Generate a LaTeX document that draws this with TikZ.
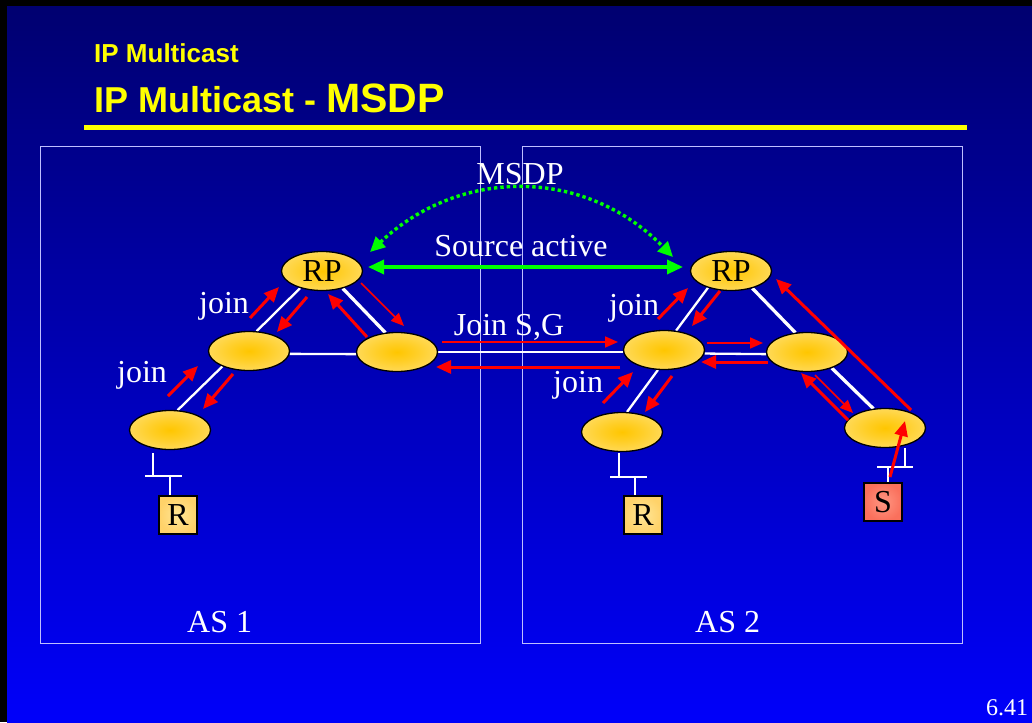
\documentclass[tikz,border=0pt]{standalone}
\usepackage{fontspec}
\setmainfont{Liberation Serif}
\newfontfamily\titlefont{Liberation Sans}
\usetikzlibrary{arrows.meta,shapes.geometric,calc}
\definecolor{bgtop}{RGB}{0,0,112}
\definecolor{bgbot}{RGB}{0,0,250}
\definecolor{ecen}{RGB}{255,198,0}
\definecolor{eout}{RGB}{255,232,155}
\definecolor{rcen}{RGB}{255,230,150}
\definecolor{rout}{RGB}{255,210,105}
\definecolor{scen}{RGB}{255,150,130}
\definecolor{sout}{RGB}{250,112,92}
\definecolor{ttl}{RGB}{255,255,0}
\definecolor{arrred}{RGB}{255,0,0}
\definecolor{arrgreen}{RGB}{0,255,0}
\definecolor{boxline}{RGB}{190,190,255}
\pgfdeclareradialshading{eglow}{\pgfpoint{0bp}{0bp}}{color(0bp)=(ecen); color(12bp)=(ecen!75!eout); color(44bp)=(eout); color(71bp)=(eout)}
\pgfdeclarelayer{bg}
\pgfsetlayers{bg,main}
\begin{document}
\begin{tikzpicture}[x=1pt,y=-1pt,
  router/.style={ellipse, draw=black, line width=1.3pt, minimum width=81pt, minimum height=39pt, inner sep=0pt, shade, shading=eglow, font=\fontsize{32}{36}\selectfont},
  hostbox/.style={rectangle, draw=black, line width=1.3pt, minimum width=38pt, minimum height=38pt, inner sep=0pt, font=\fontsize{32}{36}\selectfont},
  rhost/.style={hostbox, inner color=rcen, outer color=rout},
  shost/.style={hostbox, inner color=scen, outer color=sout},
  link/.style={draw=white, line width=2.3pt},
  thicklink/.style={draw=white, line width=3.3pt},
  lan/.style={draw=white, line width=2.6pt},
  rarr/.style={draw=arrred, line width=3pt, -{Triangle[length=15pt,width=13pt]}},
  rthin/.style={draw=arrred, line width=1.6pt, -{Triangle[length=13pt,width=11pt]}},
  garr/.style={draw=arrgreen, line width=3.3pt, {Triangle[length=16pt,width=14pt]}-{Triangle[length=16pt,width=14pt]}},
  gdot/.style={draw=arrgreen, line width=3.4pt, dash pattern=on 3.4pt off 3pt, {Triangle[length=15pt,width=14pt]}-{Triangle[length=15pt,width=14pt]}},
  lbl/.style={text=white, font=\fontsize{32}{36}\selectfont, inner sep=0pt},
]
\useasboundingbox (0,0) rectangle (1032,722);

% titles
\node[anchor=base west, text=ttl, font=\titlefont\bfseries\fontsize{26}{30}\selectfont, inner sep=0pt] (t1) at (94,63) {IP Multicast};
\node[anchor=base west, text=ttl, font=\titlefont\bfseries, inner sep=0pt] (t2) at (94,113) {\fontsize{36}{40}\selectfont IP Multicast - \fontsize{41}{44}\selectfont MSDP};

% routers AS1
\node[router] (lrp) at (322,271) {RP};
\node[router] (lml) at (249,351) {};
\node[router] (lmr) at (397,352) {};
\node[router] (lb)  at (170,430) {};
\node[rhost]  (lR)  at (178,515) {R};
% routers AS2
\node[router] (rrp) at (731,271) {RP};
\node[router] (rml) at (664,350) {};
\node[router] (rmr) at (807,352) {};
\node[router] (rbl) at (622,432) {};
\node[router] (rbr) at (885,428) {};
\node[rhost]  (rR)  at (643,515) {R};
\node[shost]  (sS)  at (883,502) {S};

% LAN coordinates
\coordinate (lbarL) at (145,476); \coordinate (lbarR) at (182,476);
\coordinate (lstubT) at ([xshift=-17pt,yshift=-3pt]lb.south);
\coordinate (lstubB) at ([xshift=-8pt]lR.north);
\coordinate (rbarL) at (610,477); \coordinate (rbarR) at (647,477);
\coordinate (rstubT) at ([xshift=-3pt,yshift=-1pt]rbl.south);
\coordinate (rstubB) at ([xshift=-8pt]rR.north);
\coordinate (sbarL) at (877,467); \coordinate (sbarR) at (913,467);
\coordinate (sstubT) at ([xshift=20pt]rbr.south);
\coordinate (sstubB) at ([xshift=5pt]sS.north);

\begin{pgfonlayer}{bg}
\fill[black] (0,0) rectangle (1032,722);
\shade[top color=bgtop, bottom color=bgbot] (7,7) rectangle (1032,722);
\fill[ttl] (84,125) rectangle (967,130);
\draw[boxline, line width=1pt] (40.5,146.5) rectangle (480.5,643.5);
\draw[boxline, line width=1pt] (522.5,146.5) rectangle (962.5,643.5);
% links AS1
\draw[link] (lrp.218) -- (lml.69);
\draw[thicklink] (lrp.320) -- (lmr.121);
\draw[link] (lml.-4) -- (lmr.183);
\draw[link] (lml.210) -- (lb.69);
% inter-AS link
\draw[link] (lmr.east) -- (lmr.east -| rml.west);
% links AS2
\draw[link] (rrp.216) -- (rml.58);
\draw[thicklink] (rrp.321) -- (rmr.121);
\draw[link] (rml.-5) -- (rmr.183);
\draw[link] (rml.253) -- (rbl.76);
\draw[thicklink] (rmr.327) -- (rbr.121);
% LANs
\draw[lan] (lbarL) -- (lbarR);
\draw[lan] (lstubT) -- (lstubT |- lbarL);
\draw[lan] (lstubB) -- (lstubB |- lbarL);
\draw[lan] (rbarL) -- (rbarR);
\draw[lan] (rstubT) -- (rstubT |- rbarL);
\draw[lan] (rstubB) -- (rstubB |- rbarL);
\draw[lan] (sbarL) -- (sbarR);
\draw[lan] (sstubT) -- (sstubT |- sbarL);
\draw[lan] (sstubB) -- (sstubB |- sbarL);
\end{pgfonlayer}

% red arrows
\coordinate (a1s) at (250,318); \coordinate (a1e) at (279,287);
\coordinate (a2s) at (307,297); \coordinate (a2e) at (277,332);
\coordinate (a3s) at (361,283); \coordinate (a3e) at (404,326);
\coordinate (a4s) at (367,337); \coordinate (a4e) at (328,294);
\coordinate (a5s) at (168,396); \coordinate (a5e) at (198,366);
\coordinate (a6s) at (233,374); \coordinate (a6e) at (203,409);
\coordinate (a7s) at (442,342); \coordinate (a7e) at (618,342);
\coordinate (a8s) at (620,367); \coordinate (a8e) at (436,367);
\coordinate (a9s) at (658,319); \coordinate (a9e) at (688,288);
\coordinate (a10s) at (720,291); \coordinate (a10e) at (692,326);
\coordinate (a11s) at (603,403); \coordinate (a11e) at (633,372);
\coordinate (a12s) at (672,376); \coordinate (a12e) at (645,412);
\coordinate (a13s) at (707,343); \coordinate (a13e) at (763,343);
\coordinate (a14s) at (768,362); \coordinate (a14e) at (701,362);
\coordinate (a15s) at (815,375); \coordinate (a15e) at (853,413);
\coordinate (a16s) at (848,420); \coordinate (a16e) at (801,373);
\coordinate (a17s) at (911,410); \coordinate (a17e) at (776,279);
\coordinate (a18s) at (890,477); \coordinate (a18e) at (905,421);
\draw[rarr] (a1s) -- (a1e);
\draw[rarr] (a2s) -- (a2e);
\draw[rthin] (a3s) -- (a3e);
\draw[rarr] (a4s) -- (a4e);
\draw[rarr] (a5s) -- (a5e);
\draw[rarr] (a6s) -- (a6e);
\draw[rthin] (a7s) -- (a7e);
\draw[rarr] (a8s) -- (a8e);
\draw[rarr] (a9s) -- (a9e);
\draw[rarr] (a10s) -- (a10e);
\draw[rarr] (a11s) -- (a11e);
\draw[rarr] (a12s) -- (a12e);
\draw[rthin] (a13s) -- (a13e);
\draw[rarr] (a14s) -- (a14e);
\draw[rthin] (a15s) -- (a15e);
\draw[rarr] (a16s) -- (a16e);
\draw[rarr] (a17s) -- (a17e);
\draw[rarr] (a18s) -- (a18e);

% green arrows
\coordinate (gL) at (368,267); \coordinate (gR) at (683,267);
\draw[garr] (gL) -- (gR);
\coordinate (mL) at (370,252); \coordinate (mR) at (673,257);
\draw[gdot] (mL) .. controls (460,167) and (585,167) .. (mR);

% labels
\node[lbl, anchor=base] (msdp) at (520,185) {MSDP};
\node[lbl, anchor=base] (sa) at (521,256) {Source active};
\node[lbl, anchor=base] (jsg) at (509,335) {Join S,G};
\node[lbl, anchor=base west] (j1) at (199,313) {join};
\node[lbl, anchor=base west] (j2) at (117,382) {join};
\node[lbl, anchor=base west] (j3) at (609,315) {join};
\node[lbl, anchor=base west] (j4) at (553,392) {join};
\node[lbl, anchor=base west] (as1) at (187,632) {AS 1};
\node[lbl, anchor=base west] (as2) at (695,632) {AS 2};
\node[lbl, anchor=base west, font=\fontsize{24}{28}\selectfont] (pg) at (986,715) {6.41};
\end{tikzpicture}
\end{document}
